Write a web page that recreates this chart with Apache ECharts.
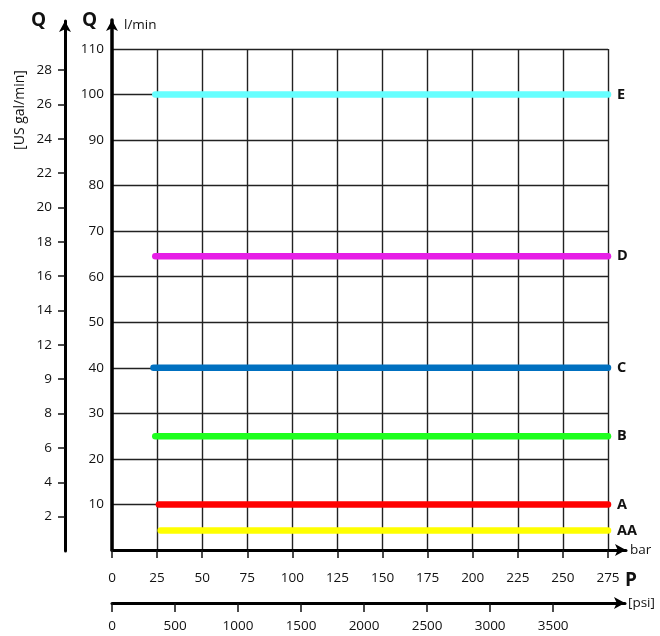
<!DOCTYPE html>
<html>
<head>
<meta charset="utf-8">
<script src="https://cdn.jsdelivr.net/npm/echarts@6/dist/echarts.min.js"></script>
<style>html,body{margin:0;padding:0;background:#fff}#c{width:660px;height:636px}</style>
</head>
<body>
<div id="c"></div>
<script>
// ---- data ----
const seriesNames = ['E', 'D', 'C', 'B', 'A', 'AA'];
const flowLmin   = [100, 64.5, 40, 25, 10, 4.3];
const startBar   = [24, 24, 23, 24, 26, 27];
const endBar     = [275, 275, 275, 275, 275, 275];
const barTicks   = [0, 25, 50, 75, 100, 125, 150, 175, 200, 225, 250, 275];
const lminTicks  = [0, 10, 20, 30, 40, 50, 60, 70, 80, 90, 100, 110];
const galTicks   = [2, 4, 6, 8, 10, 12, 14, 16, 18, 20, 22, 24, 26, 28];
const galLabels  = ['2', '4', '6', '8', '9', '12', '14', '16', '18', '20', '22', '24', '26', '28'];
const psiTicks   = [0, 500, 1000, 1500, 2000, 2500, 3000, 3500];

// ---- styles ----
const colors = ['#66FFFF', '#E61EE6', '#0070C0', '#1EFF1E', '#FF0000', '#FFFF00'];
const FONT = '"Open Sans", "DejaVu Sans", sans-serif';
const FS = 13.5;
const TXT = '#111';

const chart = echarts.init(document.getElementById('c'), null, {renderer: 'canvas'});

const series = seriesNames.map((n, i) => ({
  name: n,
  type: 'line',
  xAxisIndex: 0, yAxisIndex: 0,
  data: [[startBar[i], flowLmin[i]], [endBar[i], flowLmin[i]]],
  symbol: 'none',
  clip: false,
  lineStyle: {color: colors[i], width: 6.5, cap: 'round'},
  endLabel: {show: true, formatter: n, fontFamily: FONT, fontWeight: 'bold', fontSize: 14.5, color: TXT, distance: 9},
  animation: false,
  z: 5
}));

const option = {
  animation: false,
  backgroundColor: '#fff',
  textStyle: {fontFamily: FONT},
  grid: [
    {left: 112, top: 49, width: 496, height: 501},          // main
    {left: 112, top: 20, width: 514, height: 530},          // arrows overlay
    {left: 65, top: 21, width: 1, height: 530},             // US gal/min
    {left: 112, top: 590, width: 513, height: 13}           // psi
  ],
  xAxis: [
    {gridIndex: 0, type: 'value', min: 0, max: 275, interval: 25,
     axisLine: {show: false},
     axisTick: {show: true, length: 8, lineStyle: {color: '#111', width: 1.5}},
     axisLabel: {margin: 21, fontSize: FS, color: TXT, fontFamily: FONT,
                 customValues: barTicks},
     splitLine: {show: true, lineStyle: {color: '#222', width: 1.4}}},
    {gridIndex: 1, type: 'value', min: 0, max: 1,
     axisLine: {show: true, symbol: ['none', 'arrow'], symbolSize: [9, 11], symbolOffset: [0, 0],
                lineStyle: {color: '#000', width: 3}},
     axisTick: {show: false}, axisLabel: {show: false}, splitLine: {show: false},
     name: 'bar', nameLocation: 'end', nameGap: 4,
     nameTextStyle: {fontSize: FS, color: TXT, fontFamily: FONT, verticalAlign: 'middle'}},
    {gridIndex: 2, type: 'value', show: false},
    {gridIndex: 3, type: 'value', min: 0, max: 4070, position: 'bottom',
     axisLine: {show: true, symbol: ['none', 'arrow'], symbolSize: [9, 11],
                lineStyle: {color: '#000', width: 3}},
     axisTick: {show: true, length: 9, customValues: psiTicks, lineStyle: {color: '#111', width: 1.5}},
     axisLabel: {show: true, customValues: psiTicks, margin: 16, fontSize: FS, color: TXT, fontFamily: FONT,
                 formatter: v => String(v)},
     splitLine: {show: false},
     name: '[psi]', nameLocation: 'end', nameGap: 3,
     nameTextStyle: {fontSize: FS, color: TXT, fontFamily: FONT, verticalAlign: 'middle'}}
  ],
  yAxis: [
    {gridIndex: 0, type: 'value', min: 0, max: 110, interval: 10,
     axisLine: {show: false}, axisTick: {show: false},
     axisLabel: {margin: 8, fontSize: FS, color: TXT, fontFamily: FONT,
                 formatter: v => (v === 0 ? '' : String(v))},
     splitLine: {show: true, lineStyle: {color: '#222', width: 1.4}}},
    {gridIndex: 1, type: 'value', min: 0, max: 1,
     axisLine: {show: true, symbol: ['none', 'arrow'], symbolSize: [9, 11],
                lineStyle: {color: '#000', width: 3.5}},
     axisTick: {show: false}, axisLabel: {show: false}, splitLine: {show: false},
     name: 'l/min', nameLocation: 'end', nameGap: -5,
     nameTextStyle: {fontSize: FS, color: TXT, fontFamily: FONT, align: 'left', verticalAlign: 'middle', padding: [0, 0, 0, 12]}},
    {gridIndex: 2, type: 'value', min: 0, max: 30.85,
     axisLine: {show: true, symbol: ['none', 'arrow'], symbolSize: [9, 11],
                lineStyle: {color: '#000', width: 3}},
     axisTick: {show: true, length: 7, customValues: galTicks, lineStyle: {color: '#111', width: 1.5}},
     axisLabel: {show: true, customValues: galTicks, margin: 13, fontSize: FS, color: TXT, fontFamily: FONT,
                 formatter: v => { const k = galTicks.indexOf(v); return k >= 0 ? galLabels[k] : ''; }},
     splitLine: {show: false}},
    {gridIndex: 3, type: 'value', show: false}
  ],
  graphic: [
    {type: 'text', left: 31, top: 11, style: {text: 'Q', font: 'bold 19px ' + FONT, fill: TXT}},
    {type: 'text', left: 82, top: 11, style: {text: 'Q', font: 'bold 19px ' + FONT, fill: TXT}},
    {type: 'text', left: 625, top: 571, style: {text: 'P', font: 'bold 19px ' + FONT, fill: TXT}},
    {type: 'text', x: 20, y: 110, rotation: Math.PI / 2,
     style: {text: '[US gal/min]', font: '14px ' + FONT, fill: TXT, align: 'center', verticalAlign: 'middle'}}
  ],
  series: series
};
chart.setOption(option);
</script>
</body>
</html>
